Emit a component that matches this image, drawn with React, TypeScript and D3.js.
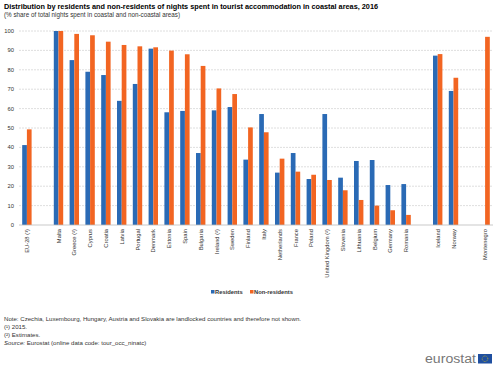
import * as d3 from "d3";

const categories = [
  "EU-28 (¹)", "", "Malta", "Greece (²)", "Cyprus", "Croatia", "Latvia", "Portugal",
  "Denmark", "Estonia", "Spain", "Bulgaria", "Ireland (²)", "Sweden", "Finland",
  "Italy", "Netherlands", "France", "Poland", "United Kingdom (²)", "Slovenia",
  "Lithuania", "Belgium", "Germany", "Romania", " ", "Iceland", "Norway", "  ",
  "Montenegro",
];

const residents: (number | null)[] = [
  41.2, null, 100, 85, 79, 77.3, 64, 72.7, 90.9, 58.1, 58.8, 37.1, 59.1, 60.8, 33.7,
  57.2, 27, 37.1, 23.7, 57.2, 24.4, 33, 33.5, 20.6, 21.1, null, 87.3, 69.1, null, null,
];

const nonResidents: (number | null)[] = [
  49.3, null, 100, 98.5, 97.8, 94.5, 92.8, 92.1, 91.6, 89.9, 88, 82, 70.4, 67.5, 50.3,
  47.8, 34.2, 27.5, 25.9, 23.2, 17.9, 12.9, 10, 7.6, 5.2, null, 88.1, 75.9, null, 97,
];

const yTicks = [0, 10, 20, 30, 40, 50, 60, 70, 80, 90, 100];

const notes = [
  "Note: Czechia, Luxembourg, Hungary, Austria and Slovakia are landlocked countries and therefore not shown.",
  "(¹) 2015.",
  "(²) Estimates.",
];

const BLUE = "#2a6ab5";
const ORANGE = "#f26522";
const FONT = "Arial, 'Liberation Sans', sans-serif";

export default function App() {
  const width = 500;
  const height = 373;
  const x = d3.scaleBand<string>().domain(categories).range([19, 493]);
  const y = d3.scaleLinear().domain([0, 100]).range([225, 31]);
  const barW = 4.7;

  return (
    <svg
      width={width}
      height={height}
      style={{ position: "absolute", left: 0, top: 0, background: "#fff" }}
      fontFamily={FONT}
    >
      <text x={4} y={9} fontSize={7} fontWeight="bold" fill="#000" textLength={374} lengthAdjust="spacingAndGlyphs">
        Distribution by  residents and non-residents of nights spent in tourist accommodation  in coastal areas, 2016
      </text>
      <text x={4} y={17} fontSize={6.3} fill="#333">
        (% share of total nights spent in coastal and non-coastal areas)
      </text>

      {yTicks.map((t) => (
        <g key={t}>
          {t > 0 && (
            <line
              x1={19}
              x2={493}
              y1={y(t)}
              y2={y(t)}
              stroke="#d6d6d6"
              strokeWidth={0.8}
              strokeDasharray="2,1"
            />
          )}
          <text x={14} y={y(t) + 2} fontSize={5.8} textAnchor="end" fill="#333">
            {t}
          </text>
        </g>
      ))}

      {categories.map((c, i) => {
        const cx = (x(c) ?? 0) + x.bandwidth() / 2;
        const r = residents[i];
        const n = nonResidents[i];
        return (
          <g key={i}>
            {r != null && (
              <rect x={cx - barW} y={y(r)} width={barW} height={y(0) - y(r)} fill={BLUE} />
            )}
            {n != null && (
              <rect x={cx} y={y(n)} width={barW} height={y(0) - y(n)} fill={ORANGE} />
            )}
            {c.trim() !== "" && (
              <text
                transform={`translate(${cx + 2},${229}) rotate(-90)`}
                fontSize={5.8}
                textAnchor="end"
                fill="#333"
              >
                {c}
              </text>
            )}
          </g>
        );
      })}

      <line x1={19} x2={493} y1={y(0)} y2={y(0)} stroke="#bbb" strokeWidth={0.8} />

      <g fontSize={5.8} fontWeight="bold" fill="#333">
        <rect x={211} y={290} width={3.5} height={3.5} fill={BLUE} />
        <text x={215} y={293.5}>Residents</text>
        <rect x={250} y={290} width={3.5} height={3.5} fill={ORANGE} />
        <text x={254} y={293.5}>Non-residents</text>
      </g>

      <g fontSize={6.1} fill="#333">
        {notes.map((t, i) => (
          <text key={i} x={4} y={321 + i * 8}>
            {t}
          </text>
        ))}
        <text x={4} y={345}>
          <tspan fontStyle="italic">Source:</tspan>
          <tspan> Eurostat (online data code: tour_occ_ninatc)</tspan>
        </text>
      </g>

      <text x={425} y={363} fontSize={12.5} fill="#777" textLength={51} lengthAdjust="spacingAndGlyphs">
        eurostat
      </text>
      <rect x={478} y={354} width={14} height={9.5} fill="#1f4fa0" />
      <circle cx={485} cy={358.75} r={2.8} fill="none" stroke="#f5d000" strokeWidth={0.8} strokeDasharray="0.6,0.9" />
    </svg>
  );
}
